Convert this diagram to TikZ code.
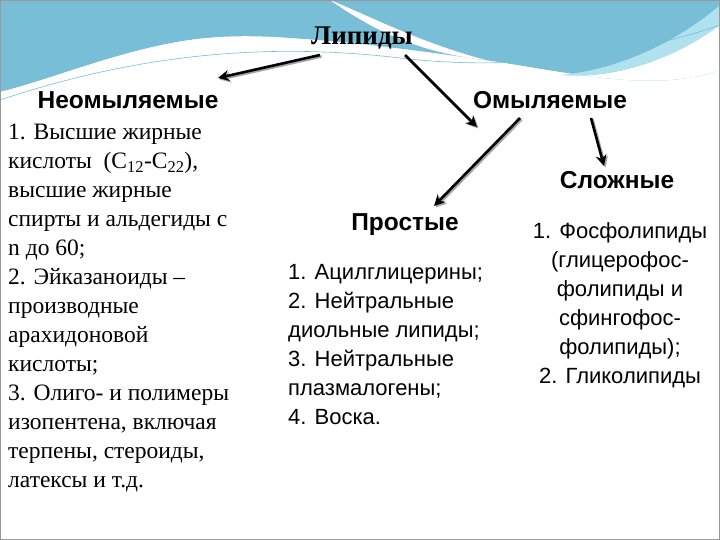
\documentclass[tikz,border=0pt]{standalone}
\usepackage{fontspec}
\usetikzlibrary{arrows.meta}
\setmainfont{Liberation Serif}
\newfontfamily\arialf{Liberation Sans}
\definecolor{bannerA}{RGB}{120,190,215}
\definecolor{bannerB}{RGB}{175,225,238}
\begin{document}
\begin{tikzpicture}[x=1pt,y=-1pt,
  body/.style={font=\fontsize{23.5}{29}\selectfont, align=left, inner sep=0pt},
  bodys/.style={font=\arialf\fontsize{22}{29}\selectfont, inner sep=0pt},
  head/.style={font=\arialf\bfseries\fontsize{24.5}{28}\selectfont, inner sep=1pt},
  arr/.style={line width=2.6pt, -{Stealth[length=11pt,width=11pt]}, black},
  shad/.style={line width=2.6pt, -{Stealth[length=11pt,width=11pt]}, black!35}]
\useasboundingbox (0,0) rectangle (720,540);
\fill[white] (0,0) rectangle (720,540);
% banner
\fill[bannerA] (0,0) -- (720,0) -- (720,70) .. controls (650,95) and (560,70) .. (470,58)
  .. controls (380,45) and (260,30) .. (190,40) .. controls (120,50) and (50,80) .. (0,92) -- cycle;
\fill[white] (330,0) .. controls (380,20) and (450,60) .. (560,75) .. controls (620,80) and (680,55) .. (720,25) -- (720,70)
  .. controls (650,95) and (560,70) .. (470,58) .. controls (420,50) and (380,35) .. (330,0);
\fill[bannerB] (720,25) .. controls (680,55) and (620,80) .. (560,75) .. controls (620,70) and (680,40) .. (720,5) -- cycle;
\fill[white] (0,92) .. controls (50,80) and (120,50) .. (190,40) .. controls (260,30) and (330,42) .. (400,52) .. controls (300,45) and (200,45) .. (0,100) -- cycle;
\draw[bannerA, line width=0.6pt] (0,100) .. controls (120,60) and (250,40) .. (400,58) .. controls (500,70) and (620,60) .. (720,25);
\draw[gray!80, line width=1pt] (0.5,0.5) rectangle (719.5,539.5);
% headings
\node[head,font=\bfseries\fontsize{27}{30}\selectfont] (lip) at (362,38) {Липиды};
\node[head] (neo) at (128,100) {Неомыляемые};
\node[head] (omy) at (550,100) {Омыляемые};
\node[head] (slo) at (617,180) {Сложные};
\node[head] (pro) at (405,225) {Простые};
% bodies
\node[body, anchor=north west] (left) at (8,124) {1. Высшие жирные\\кислоты~ (C\textsubscript{12}-C\textsubscript{22}),\\высшие жирные\\спирты и альдегиды с\\n до 60;\\2. Эйказаноиды –\\производные\\арахидоновой\\кислоты;\\3. Олиго- и полимеры\\изопентена, включая\\терпены, стероиды,\\латексы и т.д.};
\node[bodys, align=left, anchor=north west] (mid) at (288,264) {1. Ацилглицерины;\\2. Нейтральные\\диольные липиды;\\3. Нейтральные\\плазмалогены;\\4. Воска.};
\node[bodys, align=center, anchor=north] (right) at (620,222) {1. Фосфолипиды\\(глицерофос-\\фолипиды и\\сфингофос-\\фолипиды);\\2. Гликолипиды};
% arrows
\coordinate (a1) at (320,55); \coordinate (b1) at (218,78);
\coordinate (a2) at (405,55); \coordinate (b2) at (477,127);
\coordinate (a3) at (520,118); \coordinate (b3) at (434,206);
\coordinate (a4) at (591,118); \coordinate (b4) at (604,166);
\foreach \a/\b in {a1/b1,a2/b2,a3/b3,a4/b4}{
  \draw[shad] ([shift={(1.5,1.5)}]\a) -- ([shift={(1.5,1.5)}]\b);
  \draw[arr] (\a) -- (\b);}
\end{tikzpicture}
\end{document}
